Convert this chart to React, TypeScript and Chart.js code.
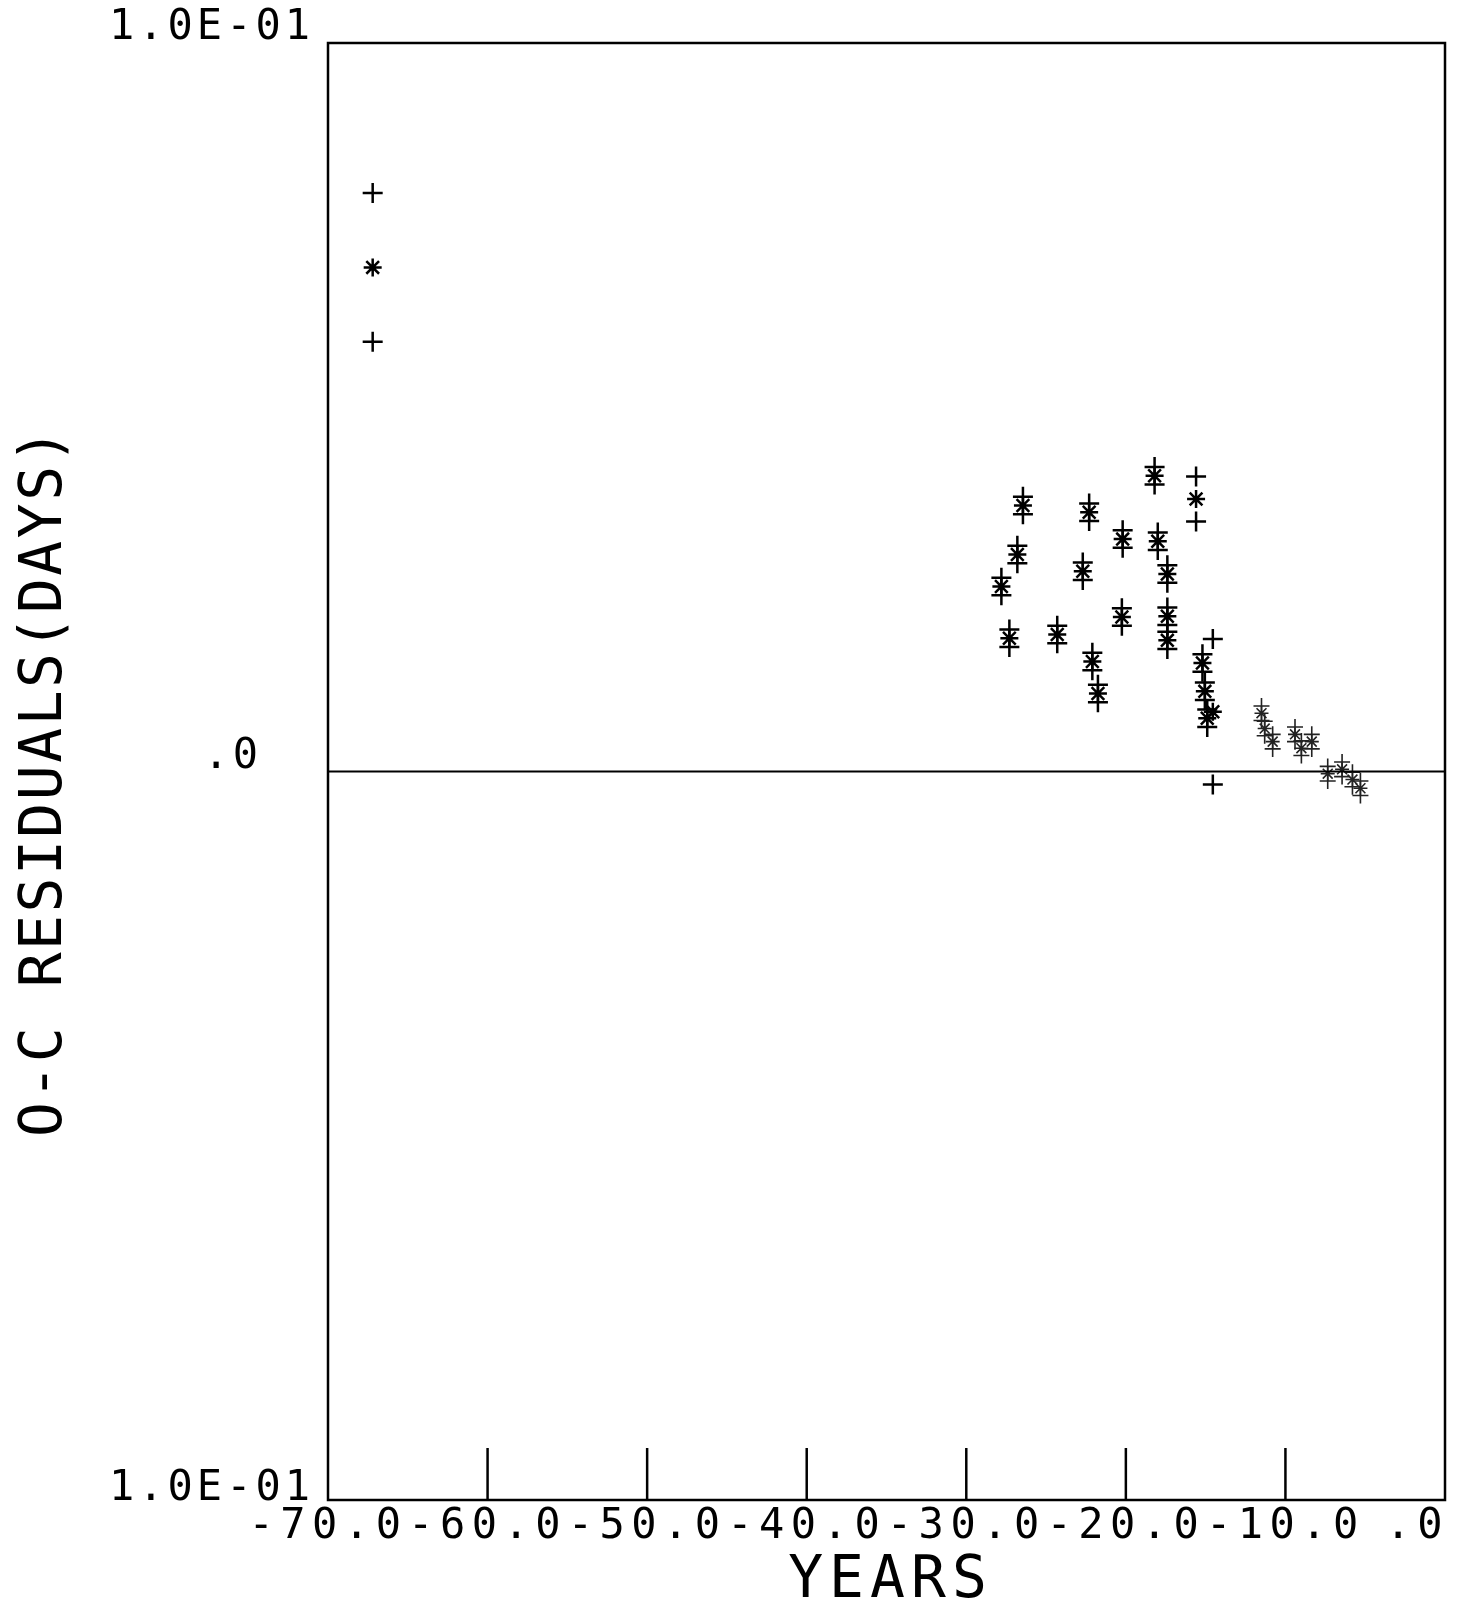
import React, { useEffect, useRef } from "react";
import { Chart, registerables } from "chart.js";

Chart.register(...registerables);

const W = 1466;
const H = 1608;

// Observations (star = O-C residual, crosses = residual +/- error)
const obsYears = [-67.2, -18.2, -15.6, -26.45, -22.3, -20.2, -18.0, -26.8, -22.7, -17.4, -27.8, -20.25, -27.3, -24.3, -17.4, -17.4, -22.1, -21.75, -15.2, -15.05, -14.9, -14.55];
const obsResid = [0.0692, 0.0406, 0.0374, 0.0365, 0.0356, 0.0319, 0.0316, 0.0298, 0.0275, 0.0271, 0.0254, 0.0212, 0.0183, 0.0188, 0.0213, 0.0180, 0.0151, 0.0107, 0.0149, 0.0110, 0.0073, 0.0082];
const obsErr = [0.0102, 0.0012, 0.0031, 0.0012, 0.0012, 0.0012, 0.0012, 0.0012, 0.0012, 0.0012, 0.0012, 0.0012, 0.0012, 0.0012, 0.0012, 0.0012, 0.0012, 0.0012, 0.0012, 0.0012, 0.0012, 0.0100];

// Recent (faint, dotted) observations
const recentYears = [-11.5, -11.3, -10.8, -9.4, -9.0, -8.35, -7.35, -6.45, -5.8, -5.3];
const recentResid = [0.0080, 0.0059, 0.0041, 0.0051, 0.0032, 0.0041, -0.0003, 0.0003, -0.0011, -0.0023];
const recentErr = [0.0010, 0.0010, 0.0010, 0.0010, 0.0010, 0.0010, 0.0010, 0.0010, 0.0010, 0.0010];

const xTickValues = [-70, -60, -50, -40, -30, -20, -10, 0];
const xTickLabels = ["-70.0", "-60.0", "-50.0", "-40.0", "-30.0", "-20.0", "-10.0", ".0"];
const yTickValues = [0.1, 0, -0.1];
const yTickLabels = ["1.0E-01", ".0", "1.0E-01"];
const xTitle = "YEARS";
const yTitle = "O-C RESIDUALS(DAYS)";

const FONT = '"DejaVu Sans Mono", "Liberation Mono", monospace';

const plotterPlugin = {
  id: "plotterDecor",
  beforeDraw(chart: any) {
    const ctx = chart.ctx;
    ctx.save();
    ctx.fillStyle = "#ffffff";
    ctx.fillRect(0, 0, chart.width, chart.height);
    ctx.restore();
  },
  afterDatasetsDraw(chart: any) {
    const ctx = chart.ctx;
    const a = chart.chartArea;
    const xs = chart.scales.x;
    const ys = chart.scales.y;
    ctx.save();
    ctx.strokeStyle = "#000";
    ctx.fillStyle = "#000";
    ctx.lineWidth = 2.5;
    ctx.strokeRect(a.left, a.top, a.right - a.left, a.bottom - a.top);

    // zero line
    const y0 = ys.getPixelForValue(0);
    ctx.lineWidth = 2;
    ctx.beginPath();
    ctx.moveTo(a.left, y0);
    ctx.lineTo(a.right, y0);
    ctx.stroke();

    // inward x tick marks
    ctx.lineWidth = 2.5;
    xTickValues.forEach((v) => {
      if (v === xTickValues[0] || v === xTickValues[xTickValues.length - 1]) return;
      const px = xs.getPixelForValue(v);
      ctx.beginPath();
      ctx.moveTo(px, a.bottom);
      ctx.lineTo(px, a.bottom - 52);
      ctx.stroke();
    });

    // x tick labels
    ctx.font = `42px ${FONT}`;
    (ctx as any).letterSpacing = "6.5px";
    ctx.textBaseline = "middle";
    xTickLabels.forEach((t, i) => {
      const px = xs.getPixelForValue(xTickValues[i]);
      if (t.startsWith("-")) {
        ctx.textAlign = "center";
        ctx.fillText(t, px, a.bottom + 27);
      } else {
        ctx.textAlign = "right";
        ctx.fillText(t, px + 4, a.bottom + 27);
      }
    });

    // y tick labels
    ctx.font = `42px ${FONT}`;
    (ctx as any).letterSpacing = "4px";
    ctx.textAlign = "right";
    yTickLabels.forEach((t, i) => {
      const v = yTickValues[i];
      const py = ys.getPixelForValue(v);
      if (v > 0) ctx.fillText(t, a.left - 14, py - 15);
      else if (v < 0) ctx.fillText(t, a.left - 14, py - 11);
      else ctx.fillText(t, a.left - 66, py - 14);
    });

    // x title
    ctx.font = `58px ${FONT}`;
    (ctx as any).letterSpacing = "6px";
    ctx.textAlign = "center";
    ctx.fillText(xTitle, (a.left + a.right) / 2 + 4, a.bottom + 82);

    // y title
    ctx.save();
    ctx.translate(46, (a.top + a.bottom) / 2 + 10);
    ctx.rotate(-Math.PI / 2);
    ctx.font = `58px ${FONT}`;
    (ctx as any).letterSpacing = "2.5px";
    ctx.textAlign = "center";
    ctx.textBaseline = "middle";
    ctx.fillText(yTitle, 0, 0);
    ctx.restore();

    ctx.restore();
  },
};

export default function App() {
  const ref = useRef<HTMLCanvasElement | null>(null);

  useEffect(() => {
    if (!ref.current) return;
    const stars = obsYears.map((x, i) => ({ x, y: obsResid[i] }));
    const crosses = obsYears.flatMap((x, i) => [
      { x, y: obsResid[i] + obsErr[i] },
      { x, y: obsResid[i] - obsErr[i] },
    ]);
    const rStars = recentYears.map((x, i) => ({ x, y: recentResid[i] }));
    const rCrosses = recentYears.flatMap((x, i) => [
      { x, y: recentResid[i] + recentErr[i] },
      { x, y: recentResid[i] - recentErr[i] },
    ]);

    const chart = new Chart(ref.current, {
      type: "scatter",
      data: {
        datasets: [
          {
            label: "O-C",
            data: stars,
            pointStyle: "star",
            pointRadius: 9,
            borderColor: "#000",
            backgroundColor: "#000",
            borderWidth: 2.5,
          },
          {
            label: "error",
            data: crosses,
            pointStyle: "cross",
            pointRadius: 10,
            borderColor: "#000",
            backgroundColor: "#000",
            borderWidth: 2.5,
          },
          {
            label: "O-C recent",
            data: rStars,
            pointStyle: "star",
            pointRadius: 7,
            borderColor: "#222",
            backgroundColor: "#222",
            borderWidth: 1.6,
          },
          {
            label: "error recent",
            data: rCrosses,
            pointStyle: "cross",
            pointRadius: 8,
            borderColor: "#222",
            backgroundColor: "#222",
            borderWidth: 1.6,
          },
        ],
      },
      options: {
        responsive: false,
        animation: false,
        layout: { padding: { left: 328, top: 43, right: W - 1445, bottom: H - 1500 } },
        plugins: { legend: { display: false }, tooltip: { enabled: false } },
        scales: {
          x: { type: "linear", min: -70, max: 0, display: false },
          y: { type: "linear", min: -0.1, max: 0.1, display: false },
        },
      },
      plugins: [plotterPlugin],
    });
    return () => chart.destroy();
  }, []);

  return (
    <div style={{ position: "fixed", left: 0, top: 0, width: W, height: H, background: "#fff" }}>
      <canvas ref={ref} width={W} height={H} style={{ display: "block", width: W, height: H }} />
    </div>
  );
}
